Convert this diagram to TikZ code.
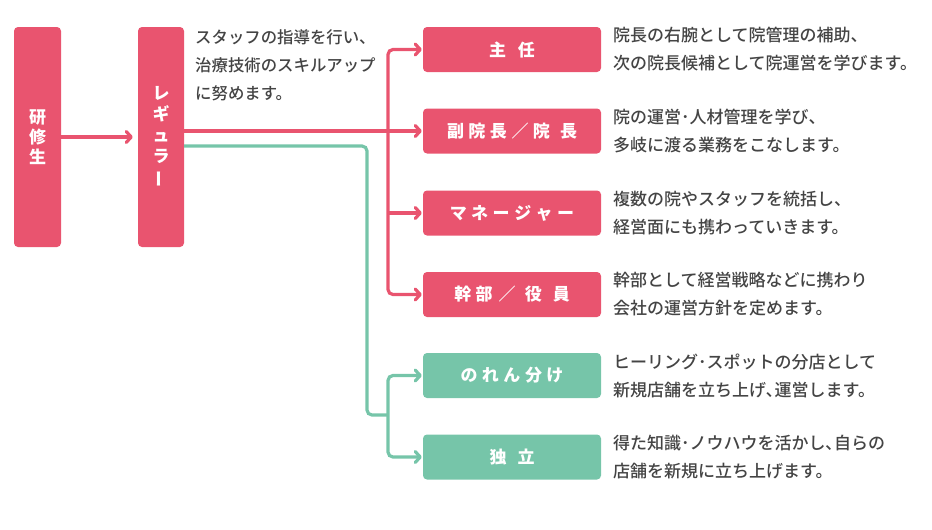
\documentclass[tikz,border=0pt]{standalone}
\usepackage{graphicx}
\usepackage{fontspec}
\setmainfont{Noto Sans CJK JP}
\newfontfamily\mjp{Noto Sans CJK JP Medium}
\usetikzlibrary{arrows.meta}
\definecolor{rd}{HTML}{E9546F}
\definecolor{gn}{HTML}{76C5A9}
\definecolor{tx}{HTML}{444444}
\newcommand\tsp{\kern4.5pt}
\tikzset{
  vbox/.style={fill=rd, rounded corners=4pt, minimum width=47pt, minimum height=220pt,
    text=white, align=center, inner sep=0pt, font=\fontsize{17}{20}\selectfont\bfseries},
  rbox/.style={fill=rd, rounded corners=4pt, minimum width=178pt, minimum height=45pt,
    text=white, inner sep=0pt, font=\fontsize{17}{20}\selectfont\bfseries},
  gbox/.style={rbox, fill=gn},
  desc/.style={anchor=west, text=tx, align=left, inner sep=0pt,
    font=\mjp\fontsize{17}{28}\selectfont},
  rline/.style={draw=rd, line width=3.2pt},
  gline/.style={draw=gn, line width=3.2pt},
  tip/.style={-{Straight Barb[length=5pt,width=11pt,round]}},
  tips/.style={{Straight Barb[length=5pt,width=11pt,round]}-{Straight Barb[length=5pt,width=11pt,round]}}
}
\begin{document}
\begin{tikzpicture}[x=1pt,y=-1pt]
\useasboundingbox (0,0) rectangle (932,530);
% left boxes
\node[vbox] (ken) at (37.5,137) {研\\修\\生};
\node[vbox, minimum width=46pt, font=\fontsize{17}{21}\selectfont\bfseries] (reg) at (161,137) {レ\\ギ\\ュ\\ラ\\\rotatebox[origin=c]{90}{ー}};
\node[desc, anchor=west, font=\mjp\fontsize{16.4}{28}\selectfont] (regd) at (195,65) {スタッフの指導を行い、\\治療技術のスキルアップ\\に努めます。};
% right boxes
\node[rbox] (shu) at (512,49.5) {主\kern12pt 任};
\node[rbox] (fuk) at (512,131) {副\tsp 院\tsp 長\tsp ／\tsp 院\kern10pt 長};
\node[rbox] (mgr) at (512,213) {マ\tsp ネ\tsp ー\tsp ジ\tsp ャ\tsp ー};
\node[rbox] (kan) at (512,294.5) {幹\tsp 部\kern6pt ／\kern9pt 役\kern11pt 員};
\node[gbox] (nor) at (512,375.5) {の\tsp れ\tsp ん\tsp 分\tsp け};
\node[gbox] (dok) at (512,457) {独\kern11pt 立};
% descriptions
\node[desc] (d1) at (613,49.5) {院長の右腕として院管理の補助、\\次の院長候補として院運営を学びます。};
\node[desc] (d2) at (613,131) {院の運営･人材管理を学び、\\多岐に渡る業務をこなします。};
\node[desc] (d3) at (613,213) {複数の院やスタッフを統括し、\\経営面にも携わっていきます。};
\node[desc] (d4) at (613,294.5) {幹部として経営戦略などに携わり\\会社の運営方針を定めます。};
\node[desc] (d5) at (613,375.5) {ヒーリング･スポットの分店として\\新規店舗を立ち上げ､運営します。};
\node[desc] (d6) at (613,457) {得た知識･ノウハウを活かし､自らの\\店舗を新規に立ち上げます。};
% coordinates
\coordinate (rv) at (388,0);
\coordinate (g1) at (367,146);
\coordinate (g2) at (367,415);
\coordinate (gv) at (388,415);
% connectors
\draw[rline, tip, shorten >=5pt] (ken.east) -- (reg.west);
\draw[rline, tip, shorten >=1pt] (reg.east |- fuk.west) -- (fuk.west);
\draw[rline, tips, rounded corners=5pt, shorten >=1pt, shorten <=1pt] (shu.west) -| (rv |- kan.west) -- (kan.west);
\draw[rline, tip, shorten >=1pt] (rv |- mgr.west) -- (mgr.west);
\draw[gline, rounded corners=5pt] (reg.east |- g1) -- (g1) -- (g2) -- (gv);
\draw[gline, tips, rounded corners=5pt, shorten >=1pt, shorten <=1pt] (nor.west) -| (gv |- dok.west) -- (dok.west);
\end{tikzpicture}
\end{document}
